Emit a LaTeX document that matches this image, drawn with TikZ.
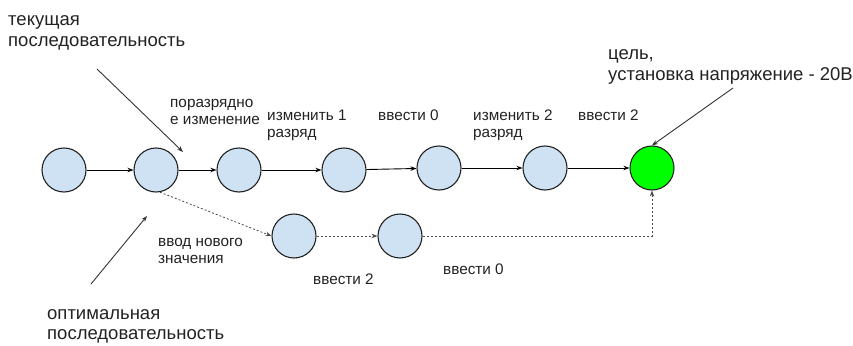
\documentclass[tikz,border=0pt]{standalone}
\usepackage{fontspec}
\setmainfont{Liberation Sans}
\usetikzlibrary{arrows.meta}
\definecolor{statefill}{HTML}{CFE2F3}
\definecolor{goalfill}{HTML}{00FF00}
\definecolor{ink}{HTML}{222222}
\tikzset{
  state/.style={circle, draw=ink, line width=1.1pt, fill=statefill, minimum size=44pt, inner sep=0pt},
  goal/.style={state, fill=goalfill},
  flow/.style={draw=black, line width=0.9pt, -{Stealth[length=6pt,width=4.5pt]}},
  alt/.style={draw=black!70, line width=0.8pt, dash pattern=on 2pt off 2pt, -{Stealth[length=6pt,width=4.5pt]}},
  pointer/.style={draw=black!80, line width=0.9pt, -{Stealth[length=6pt,width=4.5pt]}},
  % multi-line labels are placed by the baseline of their last line
  biglabel/.style={font=\fontsize{18.5}{20.5}\selectfont, text=ink, align=left, inner sep=0pt, anchor=base west},
  smalllabel/.style={font=\fontsize{15.3}{16.5}\selectfont, text=ink, align=left, inner sep=0pt, anchor=base west},
}
\begin{document}
\begin{tikzpicture}[x=1pt, y=-1pt]
\useasboundingbox (0,0) rectangle (853,345);

% main sequence of states
\node[state] (s1) at (64,170) {};
\node[state] (s2) at (156,170) {};
\node[state] (s3) at (239,170) {};
\node[state] (s4) at (344,170) {};
\node[state] (s5) at (439,168) {};
\node[state] (s6) at (545,168) {};
\node[goal]  (s7) at (652,168) {};

% alternative branch
\node[state] (a1) at (294,236) {};
\node[state] (a2) at (400,236) {};

\draw[flow] (s1) -- (s2);
\draw[flow] (s2) -- (s3);
\draw[flow] (s3) -- (s4);
\draw[flow] (s4) -- (s5);
\draw[flow] (s5) -- (s6);
\draw[flow] (s6) -- (s7);

\draw[alt] (s2.-80) -- (a1.west);
\draw[alt] (a1) -- (a2);
\draw[alt] (a2.east) -| (s7.south);

% step labels
\node[smalllabel] (l1) at (170,124) {поразрядно\\е изменение};
\node[smalllabel] (l2) at (267,137) {изменить 1\\разряд};
\node[smalllabel] (l3) at (378,120) {ввести 0};
\node[smalllabel] (l4) at (473,137) {изменить 2\\разряд};
\node[smalllabel] (l5) at (578,120) {ввести 2};
\node[smalllabel] (l6) at (158,263) {ввод нового\\значения};
\node[smalllabel] (l7) at (313,284) {ввести 2};
\node[smalllabel] (l8) at (443,274) {ввести 0};

% annotations
\node[biglabel] (cur) at (8,46) {текущая\\последовательность};
\node[biglabel] (opt) at (47,339.5) {оптимальная\\последовательность};
\node[biglabel] (tgt) at (608,80) {цель,\\установка напряжение - 20В};

\coordinate (curtail) at (97,69);
\coordinate (curhead) at (183,152);
\coordinate (opttail) at (91,284);
\coordinate (opthead) at (147,216);
\coordinate (tgttail) at (733,88);
\draw[pointer] (curtail) -- (curhead);
\draw[pointer] (opttail) -- (opthead);
\draw[pointer] (tgttail) -- (s7.north);
\end{tikzpicture}
\end{document}
